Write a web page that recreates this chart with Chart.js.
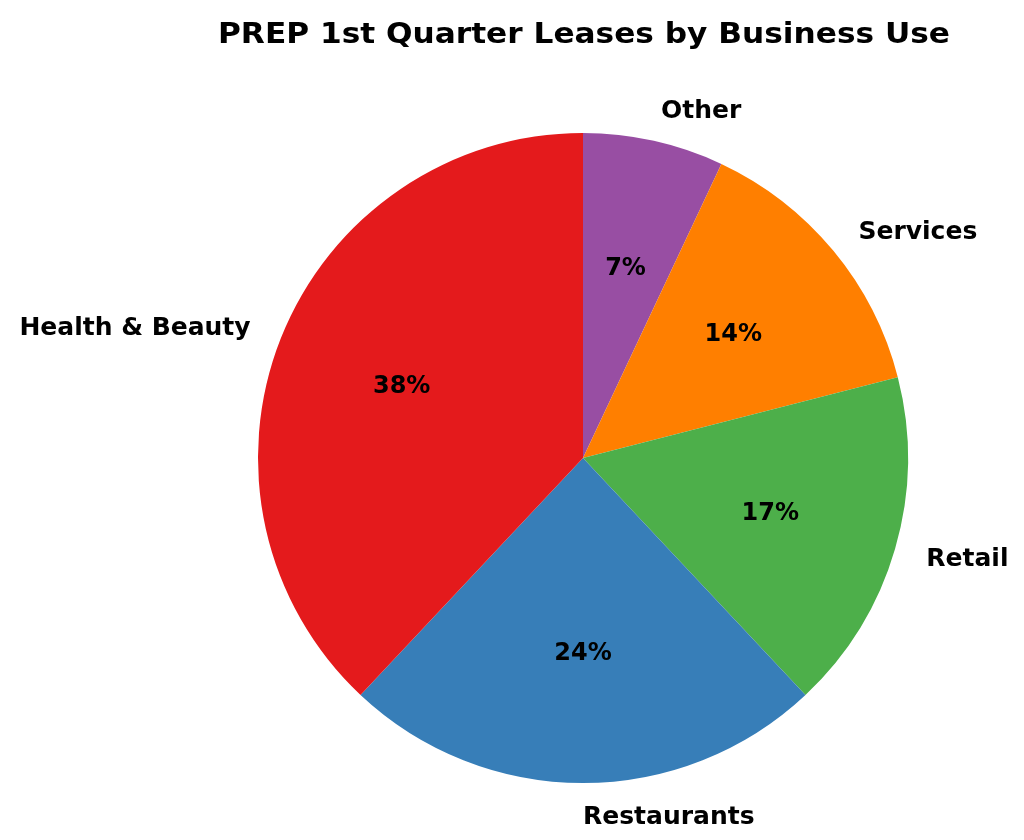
<!DOCTYPE html>
<html>
<head>
<meta charset="utf-8">
<script src="https://cdn.jsdelivr.net/npm/chart.js@4"></script>
<style>
  html, body { margin: 0; padding: 0; background: #fff; }
  #wrap { width: 1024px; height: 840px; position: relative; }
</style>
</head>
<body>
<div id="wrap"><canvas id="pieChart" width="1024" height="840"></canvas></div>
<script>
// data (counterclockwise from top, as in the original)
var categories = ["Health & Beauty", "Restaurants", "Retail", "Services", "Other"];
var leaseShares = [38, 24, 17, 14, 7];
var sliceColors = ["#e41a1c", "#377eb8", "#4daf4a", "#ff7f00", "#984ea3"];
var chartTitle = "PREP 1st Quarter Leases by Business Use";

// Chart.js goes clockwise, so reverse the order
var labels = categories.slice().reverse();
var values = leaseShares.slice().reverse();
var colors = sliceColors.slice().reverse();

var total = values.reduce(function(a, b) { return a + b; }, 0);

// label drawing like matplotlib autopct + outer labels
var labelPlugin = {
  id: "pieLabels",
  afterDraw: function(chart) {
    var ctx = chart.ctx;
    var meta = chart.getDatasetMeta(0);
    ctx.save();
    ctx.fillStyle = "#000";
    meta.data.forEach(function(arc, i) {
      var mid = (arc.startAngle + arc.endAngle) / 2;
      var r = arc.outerRadius;
      var cx = arc.x, cy = arc.y;
      // percent inside
      var pct = Math.round(values[i] / total * 100) + "%";
      ctx.font = "bold 24px 'DejaVu Sans'";
      ctx.textAlign = "center";
      ctx.textBaseline = "middle";
      ctx.fillText(pct, cx + Math.cos(mid) * r * 0.6, cy + Math.sin(mid) * r * 0.6 + 1);
      // category outside
      var lx = cx + Math.cos(mid) * r * 1.1;
      var ly = cy + Math.sin(mid) * r * 1.1;
      ctx.font = "bold 25px 'DejaVu Sans'";
      ctx.textAlign = Math.cos(mid) > -1e-6 ? "left" : "right";
      ctx.fillText(labels[i], lx, ly + 2);
    });
    // title
    ctx.font = "bold 29px 'DejaVu Sans'";
    ctx.textAlign = "center";
    ctx.textBaseline = "middle";
    var w = ctx.measureText(chartTitle).width;
    var sx = 732 / w;
    ctx.translate(584, 35);
    ctx.scale(sx, 1);
    ctx.fillText(chartTitle, 0, 0);
    ctx.restore();
  }
};

var ctx = document.getElementById("pieChart").getContext("2d");
var chart = new Chart(ctx, {
  type: "pie",
  data: {
    labels: labels,
    datasets: [{
      data: values,
      backgroundColor: colors,
      borderWidth: 0
    }]
  },
  options: {
    responsive: false,
    animation: false,
    rotation: 0,
    layout: {
      padding: { left: 258, right: 116, top: 133, bottom: 57 }
    },
    plugins: {
      legend: { display: false },
      tooltip: { enabled: false }
    }
  },
  plugins: [labelPlugin]
});
</script>
</body>
</html>
